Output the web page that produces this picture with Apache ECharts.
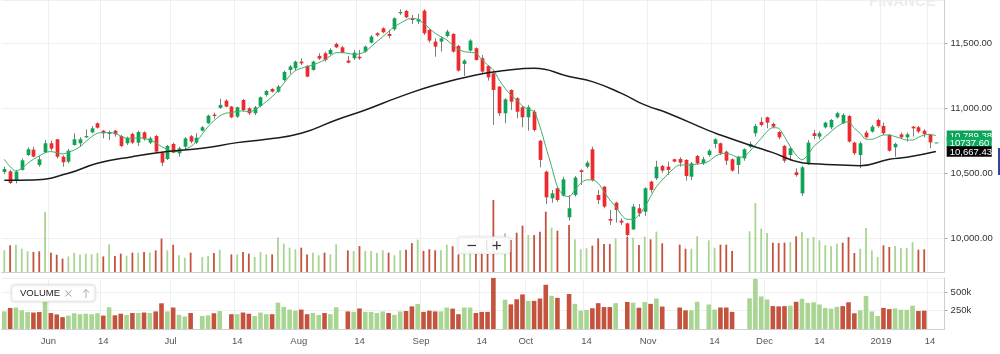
<!DOCTYPE html>
<html><head><meta charset="utf-8">
<script src="https://cdn.jsdelivr.net/npm/echarts@6/dist/echarts.min.js"></script>
<style>html,body{margin:0;padding:0;background:#fff;}#c{width:1000px;height:354px;}</style>
</head><body><div id="c"></div>
<script>
// ---- DATA ----
const tradingDays = {
  '2018-05': [22,23,24,25,28,29,30,31],
  '2018-06': [1,4,5,6,7,8,11,12,13,14,15,18,19,20,21,22,25,26,27,28,29],
  '2018-07': [2,3,4,5,6,9,10,11,12,13,16,17,18,19,20,23,24,25,26,27,30,31],
  '2018-08': [1,2,3,6,7,8,9,10,13,14,16,17,20,21,23,24,27,28,29,30,31],
  '2018-09': [3,4,5,6,7,10,11,12,14,17,18,19,21,24,25,26,27,28],
  '2018-10': [1,3,4,5,8,9,10,11,12,15,16,17,19,22,23,24,25,26,29,30,31],
  '2018-11': [1,2,5,6,7,9,12,13,14,15,16,19,20,21,22,26,27,28,29,30],
  '2018-12': [3,4,5,6,7,10,11,12,13,14,17,18,19,20,21,24,26,27,28,31],
  '2019-01': [2,3,4,7,8,9,10,11,14,15]
};
const open = [10510,10515,10449,10526,10641,10682,10564,10662,10731,10762,10628,10590,10718,10731,10777,10815,10885,10828,10803,10828,
10787,10731,10803,10736,10815,10736,10787,10659,10610,10726,10654,10705,10785,10736,10828,10885,10951,11003,11059,11013,
10936,11064,11000,10962,11018,11103,11149,11128,11218,11295,11308,11359,11326,11295,11403,11423,11418,11495,11469,11367,
11385,11397,11436,11505,11577,11615,11572,11608,11731,11749,11692,11667,11751,11603,11513,11513,11556,11572,11480,11341,
11444,11462,11385,11326,11269,11167,10962,11141,11077,11008,10931,10974,10751,10513,10308,10385,10328,10162,10333,10523,
10551,10685,10333,10397,10149,10274,10136,10115,10069,10231,10205,10436,10462,10556,10551,10608,10610,10603,10474,10633,
10577,10641,10726,10731,10667,10608,10564,10615,10705,10808,10895,10931,10880,10818,10710,10641,10508,10346,10572,10808,
10782,10854,10854,10931,10885,10941,10736,10641,10813,10821,10910,10864,10795,10700,10800,10777,10859,10854,10828,10795,10737.6];
const high = [10551,10526,10526,10615,10700,10705,10633,10756,10751,10762,10638,10687,10808,10777,10838,10864,10892,10833,10828,10833,
10795,10782,10813,10828,10823,10782,10795,10667,10718,10736,10705,10777,10795,10808,10864,10951,10967,11074,11069,11018,
11013,11072,11008,11018,11090,11141,11154,11180,11290,11333,11367,11385,11333,11367,11423,11436,11462,11505,11480,11403,
11449,11449,11482,11564,11585,11623,11603,11700,11762,11756,11718,11726,11762,11608,11538,11551,11603,11577,11487,11377,
11531,11469,11410,11333,11282,11172,11077,11146,11085,11018,11026,10987,10756,10521,10372,10397,10474,10333,10479,10531,
10597,10705,10372,10403,10218,10282,10154,10121,10264,10264,10392,10444,10597,10564,10590,10613,10623,10608,10587,10641,
10628,10685,10769,10736,10674,10615,10633,10692,10744,10880,10931,10936,10890,10826,10718,10705,10538,10556,10756,10833,
10821,10897,10918,10974,10962,10949,10744,10744,10828,10872,10921,10890,10803,10736,10813,10813,10864,10864,10838,10803,10737.6];
const low = [10493,10418,10423,10521,10633,10623,10551,10654,10674,10615,10551,10577,10713,10705,10772,10808,10844,10769,10756,10782,
10700,10718,10726,10710,10751,10726,10654,10556,10603,10654,10628,10685,10731,10726,10823,10880,10921,10997,11008,10923,
10926,10974,10949,10949,11008,11090,11121,11121,11208,11264,11290,11333,11239,11290,11372,11359,11410,11462,11423,11346,
11372,11372,11428,11500,11551,11577,11538,11597,11718,11692,11649,11649,11564,11505,11397,11436,11546,11428,11282,11249,
11436,11367,11269,11213,10872,10941,10885,10987,10923,10854,10828,10821,10546,10264,10274,10282,10321,10136,10321,10410,
10538,10436,10264,10231,10103,10121,10103,10018,10064,10167,10172,10351,10449,10505,10487,10585,10551,10444,10449,10564,
10564,10628,10692,10641,10564,10513,10495,10597,10692,10782,10859,10846,10846,10762,10582,10597,10474,10326,10564,10762,
10762,10846,10839,10921,10880,10736,10641,10539,10769,10813,10851,10795,10667,10628,10762,10744,10782,10808,10777,10692,10737.6];
const close = [10533,10426,10513,10600,10685,10628,10608,10731,10690,10628,10585,10674,10762,10762,10787,10846,10851,10808,10818,10800,
10710,10774,10736,10818,10762,10769,10667,10582,10710,10659,10692,10769,10744,10774,10854,10944,10941,11026,11013,10931,
11008,10987,10962,11008,11085,11133,11128,11167,11279,11321,11359,11346,11244,11359,11382,11372,11449,11469,11428,11351,
11428,11385,11474,11551,11562,11585,11556,11692,11741,11700,11679,11685,11577,11521,11474,11538,11590,11436,11290,11367,
11521,11372,11282,11238,11141,10962,11069,11051,10974,10931,11008,10833,10603,10315,10346,10295,10454,10231,10467,10510,
10582,10449,10295,10244,10136,10218,10121,10026,10244,10192,10385,10372,10551,10521,10526,10590,10582,10479,10577,10577,
10608,10674,10762,10654,10597,10521,10628,10685,10726,10864,10872,10890,10859,10777,10597,10692,10487,10546,10736,10787,
10808,10890,10910,10962,10949,10744,10654,10731,10777,10859,10863,10808,10674,10726,10777,10800,10846,10821,10803,10737.6,10737.6];
// volume, thousands
const volume = [239,286,292,254,230,224,230,598,217,198,161,182,214,201,208,201,214,182,295,186,
208,189,217,217,224,217,239,349,239,292,192,170,217,0,177,186,214,245,0,201,
201,224,208,177,224,201,201,358,301,264,249,264,201,217,192,217,201,295,0,239,
233,279,233,233,217,239,217,192,239,245,307,339,233,249,239,239,292,277,201,292,
292,217,233,233,710,0,398,335,404,470,382,382,414,601,451,423,0,476,342,249,
258,282,351,298,298,351,0,367,358,289,367,342,414,305,0,0,292,254,254,370,
0,333,264,292,292,233,0,0,417,682,442,401,311,307,311,317,370,411,354,363,
333,286,277,301,311,363,214,254,448,239,177,286,270,279,261,261,317,245,249,0,0];
// short moving average (green), read per candle
const maShort = [10608,10551,10518,10538,10577,10608,10633,10659,10667,10659,10649,10662,10679,10705,10744,10782,10808,10813,10813,10808,
10787,10769,10769,10774,10769,10756,10736,10705,10685,10667,10667,10685,10705,10744,10803,10859,10905,10941,10962,10967,
10977,10980,10974,10987,11018,11051,11090,11136,11192,11249,11290,11308,11321,11333,11351,11372,11403,11428,11428,11423,
11415,11418,11436,11474,11513,11551,11590,11628,11654,11679,11692,11685,11654,11615,11577,11551,11526,11487,11454,11436,
11430,11423,11377,11333,11295,11218,11154,11103,11064,11018,10992,10974,10859,10705,10551,10397,10333,10321,10372,10423,
10449,10449,10423,10359,10295,10244,10180,10146,10146,10180,10239,10321,10397,10449,10495,10538,10564,10564,10564,10572,
10577,10592,10628,10649,10654,10641,10623,10628,10667,10718,10769,10821,10851,10846,10782,10705,10641,10603,10641,10705,
10744,10782,10821,10859,10885,10897,10846,10808,10762,10762,10777,10795,10795,10782,10769,10756,10756,10777,10795,10800,10789.38];
// long moving average (black), read at sample candles [candle index, value]
const maLong = [[0,10446],[5,10449],[11,10500],[16,10577],[22,10628],[28,10667],[34,10692],[40,10736],[45,10762],[51,10808],
[57,10910],[62,10987],[68,11090],[74,11179],[81,11256],[86,11290],[91,11308],[97,11244],[101,11205],[106,11115],[110,11026],
[114,10962],[121,10828],[123,10795],[128,10718],[132,10659],[137,10582],[140,10572],[147,10559],[152,10608],[155,10623],[160,10667.43]];
// x tick labels: [date of the bar the label sits on, text]
const tickLabels = [['2018-06-01','Jun'],['2018-06-14','14'],['2018-07-02','Jul'],['2018-07-17','14'],['2018-08-01','Aug'],['2018-08-16','14'],
['2018-09-03','Sep'],['2018-09-18','14'],['2018-10-01','Oct'],['2018-10-16','14'],['2018-11-01','Nov'],['2018-11-19','14'],
['2018-12-03','Dec'],['2018-12-14','14'],['2019-01-02','2019'],['2019-01-14','14']];
const priceTicks = [10000, 10500, 11000, 11500];
const volumeTicks = [250, 500];

// ---- build ----
const dates = [];
Object.keys(tradingDays).forEach(m => tradingDays[m].forEach(d => dates.push(m + '-' + String(d).padStart(2, '0'))));
const cats = dates.concat(['']);
const labelMap = {};
tickLabels.forEach(t => { labelMap[t[0]] = t[1]; });
const isTick = (i, v) => labelMap[v] !== undefined;

const UP = '#10a356', DOWN = '#ee2a2e', WICK = '#7d7d7d';
const VUP = '#a8d592', VDOWN = '#c4533e';
const FONT = 'Liberation Sans';

const candleData = dates.map((d, i) => [i, open[i], close[i], low[i], high[i]]);
const volColor = p => (p.dataIndex === 0 || close[p.dataIndex] >= close[p.dataIndex - 1]) ? VUP : VDOWN;

function renderCandle(params, api) {
  const i = api.value(0);
  const o = api.value(1), c = api.value(2), l = api.value(3), h = api.value(4);
  const pO = api.coord([i, o]), pC = api.coord([i, c]), pL = api.coord([i, l]), pH = api.coord([i, h]);
  const w = api.size([1, 0])[0] * 0.64;
  const x = Math.round(pO[0]) + 0.5;
  const top = Math.min(pO[1], pC[1]), bot = Math.max(pO[1], pC[1]);
  return {
    type: 'group', children: [
      { type: 'line', shape: { x1: x, y1: pH[1], x2: x, y2: pL[1] }, style: { stroke: WICK, lineWidth: 1 } },
      { type: 'rect', shape: { x: x - w / 2, y: top, width: w, height: Math.max(bot - top, 1) },
        style: { fill: c >= o ? UP : DOWN } }
    ]
  };
}

const chart = echarts.init(document.getElementById('c'), null, { renderer: 'canvas' });
const GL = 1.4, GW = 943.2;
const fmt2 = v => v.toLocaleString('en-US', { minimumFractionDigits: 2, maximumFractionDigits: 2 });

chart.setOption({
  animation: false,
  backgroundColor: '#ffffff',
  textStyle: { fontFamily: FONT },
  grid: [
    { left: GL, top: 0, width: GW, height: 272 },
    { left: GL, top: 278, width: GW, height: 51 }
  ],
  xAxis: [
    { type: 'category', gridIndex: 0, data: cats, boundaryGap: true,
      axisLine: { show: true, lineStyle: { color: '#cfcfcf' } }, axisTick: { show: false }, axisLabel: { show: false },
      splitLine: { show: true, interval: isTick, lineStyle: { color: '#efefef' } } },
    { type: 'category', gridIndex: 1, data: cats, boundaryGap: true,
      axisLine: { show: true, lineStyle: { color: '#cfcfcf' } }, axisTick: { show: false },
      axisLabel: { show: true, interval: isTick,
        formatter: v => { const t = labelMap[v]; if (!t) return ''; return (t === '14' ? '{d|' : '{m|') + t + '}'; },
        rich: {
          m: { color: '#555', fontSize: 9.5, fontFamily: FONT, padding: [0, 5, 0, 0] },
          d: { color: '#555', fontSize: 9.5, fontFamily: FONT }
        },
        color: '#555', fontSize: 9.5, fontFamily: FONT, margin: 7 },
      splitLine: { show: true, interval: isTick, lineStyle: { color: '#efefef' } } }
  ],
  yAxis: [
    { type: 'value', gridIndex: 0, position: 'right', min: 9741, max: 11833, splitNumber: 4, scale: true,
      axisLine: { show: true, lineStyle: { color: '#cfcfcf' } },
      axisTick: { show: true, length: 3, lineStyle: { color: '#aaa' } },
      axisLabel: { formatter: v => priceTicks.includes(v) ? fmt2(v) : '', showMinLabel: false, showMaxLabel: false,
        color: '#333', fontSize: 9.5, fontFamily: FONT, margin: 6 },
      splitLine: { show: true, lineStyle: { color: '#f0f0f0' } } },
    { type: 'value', gridIndex: 0, min: 36, max: 2583, show: false, splitLine: { show: false } },
    { type: 'value', gridIndex: 1, position: 'right', min: 0, max: 693, interval: 250,
      axisLine: { show: true, lineStyle: { color: '#cfcfcf' } },
      axisTick: { show: true, length: 3, lineStyle: { color: '#aaa' } },
      axisLabel: { formatter: v => volumeTicks.includes(v) ? v + 'k' : '', showMinLabel: false, showMaxLabel: false,
        color: '#333', fontSize: 9.5, fontFamily: FONT, margin: 6 },
      splitLine: { show: true, lineStyle: { color: '#f0f0f0' } } }
  ],
  series: [
    { type: 'bar', name: 'volOverlay', xAxisIndex: 0, yAxisIndex: 1, data: volume, barWidth: 1.8, z: 1,
      itemStyle: { color: volColor }, silent: true, clip: true },
    { type: 'custom', name: 'price', xAxisIndex: 0, yAxisIndex: 0, data: candleData, renderItem: renderCandle,
      encode: { x: 0, y: [1, 2, 3, 4] }, z: 3, clip: true },
    { type: 'line', name: 'maShort', xAxisIndex: 0, yAxisIndex: 0, data: maShort, symbol: 'none', smooth: 0.3, z: 4,
      lineStyle: { color: '#3fae6c', width: 1 } },
    { type: 'line', name: 'maLong', xAxisIndex: 0, yAxisIndex: 0, data: maLong, symbol: 'none', smooth: 0.5, z: 4,
      lineStyle: { color: '#1c1c1c', width: 1.5 } },
    { type: 'bar', name: 'volume', xAxisIndex: 1, yAxisIndex: 2, data: volume, barWidth: 4.6, z: 2,
      itemStyle: { color: volColor }, clip: true }
  ]
});

// right-side value tags, positioned through the price scale
const yOf = v => chart.convertToPixel({ xAxisIndex: 0, yAxisIndex: 0 }, [0, v])[1];
const lastIdx = close.length - 1;
const tags = [
  { v: maShort[maShort.length - 1], text: fmt2(maShort[maShort.length - 1]), bg: '#0ea257' },
  { v: close[lastIdx], text: close[lastIdx].toFixed(2), bg: '#0ea95c' },
  { v: maLong[maLong.length - 1][1], text: fmt2(maLong[maLong.length - 1][1]), bg: '#050505' }
];
const TX = 946.7, TW = 45, TH = 10.6;
const graphics = [];
tags.forEach((t, k) => {
  const y = yOf(t.v);
  graphics.push({ type: 'rect', z: 20 + k, shape: { x: TX, y: y - TH / 2, width: TW, height: TH }, style: { fill: t.bg } });
  graphics.push({ type: 'text', z: 20 + k, x: TX + 3, y: y + 0.5,
    style: { text: t.text, fill: '#fff', font: '9.5px "' + FONT + '"', textVerticalAlign: 'middle', verticalAlign: 'middle' } });
});
// watermark
graphics.push({ type: 'text', z: 0, x: 869, y: 9, silent: true,
  style: { text: 'FINANCE', fill: '#ececec', font: 'bold 15px "' + FONT + '"', textVerticalAlign: 'bottom', verticalAlign: 'bottom' } });
// navy edge bar
graphics.push({ type: 'rect', z: 20, shape: { x: 998, y: 148, width: 2, height: 27 }, style: { fill: '#3a3e9c' } });
// VOLUME legend box
graphics.push({ type: 'rect', z: 20, shape: { x: 11.5, y: 285, width: 83.5, height: 16.5, r: 3 },
  style: { fill: '#ffffff', stroke: '#e6e6e6', lineWidth: 1, shadowBlur: 3, shadowColor: 'rgba(0,0,0,0.12)' } });
graphics.push({ type: 'text', z: 21, x: 20, y: 293.5,
  style: { text: 'VOLUME', fill: '#222', font: '500 9.5px "' + FONT + '"', textVerticalAlign: 'middle', verticalAlign: 'middle' } });
graphics.push({ type: 'line', z: 21, shape: { x1: 65.3, y1: 290.5, x2: 71.3, y2: 296.5 }, style: { stroke: '#999', lineWidth: 1 } });
graphics.push({ type: 'line', z: 21, shape: { x1: 71.3, y1: 290.5, x2: 65.3, y2: 296.5 }, style: { stroke: '#999', lineWidth: 1 } });
graphics.push({ type: 'line', z: 21, shape: { x1: 86, y1: 289.5, x2: 86, y2: 298 }, style: { stroke: '#aaa', lineWidth: 1 } });
graphics.push({ type: 'polyline', z: 21, shape: { points: [[82.8, 292.7], [86, 289.5], [89.2, 292.7]] }, style: { stroke: '#aaa', lineWidth: 1, fill: null } });
// zoom widget
graphics.push({ type: 'rect', z: 20, shape: { x: 458, y: 237, width: 52, height: 16.5, r: 2 },
  style: { fill: 'rgba(255,255,255,0.92)', stroke: '#ececec', lineWidth: 1, shadowBlur: 3, shadowColor: 'rgba(0,0,0,0.10)' } });
graphics.push({ type: 'line', z: 21, shape: { x1: 467.5, y1: 245.5, x2: 476, y2: 245.5 }, style: { stroke: '#333', lineWidth: 1.2 } });
graphics.push({ type: 'line', z: 21, shape: { x1: 486.7, y1: 240, x2: 486.7, y2: 250.5 }, style: { stroke: '#dcdcdc', lineWidth: 1 } });
graphics.push({ type: 'line', z: 21, shape: { x1: 492.5, y1: 245.5, x2: 501, y2: 245.5 }, style: { stroke: '#333', lineWidth: 1.2 } });
graphics.push({ type: 'line', z: 21, shape: { x1: 496.75, y1: 241.2, x2: 496.75, y2: 249.8 }, style: { stroke: '#333', lineWidth: 1.2 } });
chart.setOption({ graphic: graphics });
</script>
</body></html>
